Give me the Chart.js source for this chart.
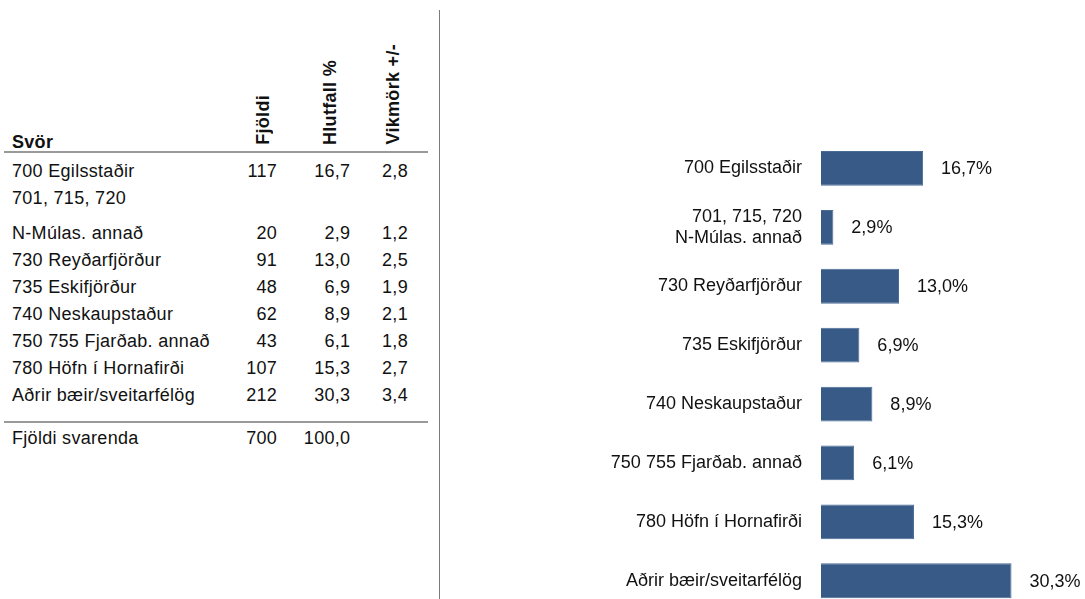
<!DOCTYPE html>
<html lang="is">
<head>
<meta charset="utf-8">
<title>Svör eftir búsetu</title>
<script src="https://cdn.jsdelivr.net/npm/chart.js@4.4.1/dist/chart.umd.min.js"></script>
<style>
    html, body {
        margin: 0;
        padding: 0;
        background: #fff;
        overflow: hidden;
        width: 1085px;
        height: 599px;
    }
    body {
        position: relative;
        font-family: "Liberation Sans", Arial, sans-serif;
        color: #111;
    }
    #tableBox {
        position: absolute;
        left: 4px;
        top: 0;
        width: 424px;
    }
    table {
        border-collapse: collapse;
        width: 424px;
        font-size: 18px;
        letter-spacing: 0.3px;
    }
    td, th {
        padding: 0;
        line-height: 18px;
        height: 27px;
        vertical-align: bottom;
        white-space: nowrap;
    }
    th {
        font-weight: bold;
        height: 148px;
        padding-bottom: 3px;
    }
    th.lbl {
        padding-bottom: 0;
    }
    thead tr {
        border-bottom: 2px solid #9a9a9a;
    }
    tr.wrapped td {
        height: 62px;
    }
    tr.total {
        border-top: 2px solid #9a9a9a;
    }
    tr.total td {
        height: 24px;
    }
    tr.last td {
        padding-bottom: 17px;
    }
    .lbl {
        text-align: left;
        padding-left: 8px;
        width: 226px;
    }
    .num {
        text-align: right;
    }
    .c1 { width: 47px; padding-right: 5px; }
    .c2 { width: 65px; padding-right: 5px; }
    .c3 { width: 56px; padding-right: 20px; }
    th.c1 { padding-right: 10px; }
    th.c2 { padding-right: 16px; }
    th.c3 { padding-right: 26px; }
    .vert {
        display: inline-block;
        writing-mode: vertical-rl;
        transform: rotate(180deg);
        line-height: 18px;
    }
    .wrapFirst {
        display: block;
        margin-bottom: 17px;
    }
    #divider {
        position: absolute;
        left: 439px;
        top: 10px;
        width: 1px;
        height: 600px;
        background: #7a7a7a;
    }
    #chartBox {
        position: absolute;
        left: 441px;
        top: 0;
        width: 644px;
        height: 640px;
    }
</style>
</head>
<body>

<div id="tableBox">
    <table id="dataTable"></table>
</div>
<div id="divider"></div>
<div id="chartBox">
    <canvas id="barChart"></canvas>
</div>

<script>
// Búseta svarenda
const categories = [
    ['700 Egilsstaðir'],
    ['701, 715, 720', 'N-Múlas. annað'],
    ['730 Reyðarfjörður'],
    ['735 Eskifjörður'],
    ['740 Neskaupstaður'],
    ['750 755 Fjarðab. annað'],
    ['780 Höfn í Hornafirði'],
    ['Aðrir bæir/sveitarfélög']
];
const counts = [117, 20, 91, 48, 62, 43, 107, 212];
const shares = [16.7, 2.9, 13.0, 6.9, 8.9, 6.1, 15.3, 30.3];
const margins = [2.8, 1.2, 2.5, 1.9, 2.1, 1.8, 2.7, 3.4];
const columnHeads = ['Svör', 'Fjöldi', 'Hlutfall %', 'Vikmörk +/-'];
const totalLabel = 'Fjöldi svarenda';
const totalCount = 700;
const totalShare = 100.0;

const barColor = '#375a86';

function fmt(v) {
    return v.toFixed(1).replace('.', ',');
}

// Table on the left
function buildTable() {
    const table = document.getElementById('dataTable');
    let html = '<thead><tr>';
    html += `<th class="lbl">${columnHeads[0]}</th>`;
    html += `<th class="num c1"><span class="vert">${columnHeads[1]}</span></th>`;
    html += `<th class="num c2"><span class="vert">${columnHeads[2]}</span></th>`;
    html += `<th class="num c3"><span class="vert">${columnHeads[3]}</span></th>`;
    html += '</tr></thead><tbody>';

    categories.forEach((lines, i) => {
        const classes = [];
        if (lines.length > 1) classes.push('wrapped');
        if (i === categories.length - 1) classes.push('last');
        const cls = classes.length ? ` class="${classes.join(' ')}"` : '';
        let label = lines[lines.length - 1];
        if (lines.length > 1) {
            label = lines.slice(0, -1).map(l => `<span class="wrapFirst">${l}</span>`).join('') + label;
        }
        html += `<tr${cls}>
            <td class="lbl">${label}</td>
            <td class="num c1">${counts[i]}</td>
            <td class="num c2">${fmt(shares[i])}</td>
            <td class="num c3">${fmt(margins[i])}</td>
        </tr>`;
    });

    html += `<tr class="total">
        <td class="lbl">${totalLabel}</td>
        <td class="num c1">${totalCount}</td>
        <td class="num c2">${fmt(totalShare)}</td>
        <td class="num c3"></td>
    </tr></tbody>`;
    table.innerHTML = html;
}

buildTable();

// Percent labels to the right of each bar
const valueLabels = {
    id: 'valueLabels',
    afterDatasetsDraw(chart) {
        const ctx = chart.ctx;
        const meta = chart.getDatasetMeta(0);
        ctx.save();
        ctx.font = '18px "Liberation Sans", Arial, sans-serif';
        ctx.fillStyle = '#111';
        ctx.textAlign = 'left';
        ctx.textBaseline = 'middle';
        meta.data.forEach((bar, i) => {
            ctx.fillText(fmt(shares[i]) + '%', bar.x + 18, bar.y + 1);
        });
        ctx.restore();
    }
};

const ctx = document.getElementById('barChart').getContext('2d');
const barChart = new Chart(ctx, {
    type: 'bar',
    data: {
        labels: categories,
        datasets: [{
            data: shares,
            backgroundColor: barColor,
            borderColor: '#4a6d98',
            borderWidth: 1,
            barPercentage: 0.59,
            categoryPercentage: 1
        }]
    },
    options: {
        indexAxis: 'y',
        responsive: true,
        maintainAspectRatio: false,
        animation: false,
        layout: {
            padding: { top: 139, bottom: 27, left: 0, right: 0 }
        },
        plugins: {
            legend: { display: false },
            tooltip: { enabled: false }
        },
        scales: {
            x: {
                display: false,
                min: 1,
                max: 41.6
            },
            y: {
                grid: { display: false, drawTicks: false },
                border: { display: false },
                ticks: {
                    color: '#111',
                    padding: 19,
                    font: { family: '"Liberation Sans", Arial, sans-serif', size: 18 }
                },
                afterFit(scale) {
                    scale.width = 380;
                }
            }
        }
    },
    plugins: [valueLabels]
});
</script>
</body>
</html>
